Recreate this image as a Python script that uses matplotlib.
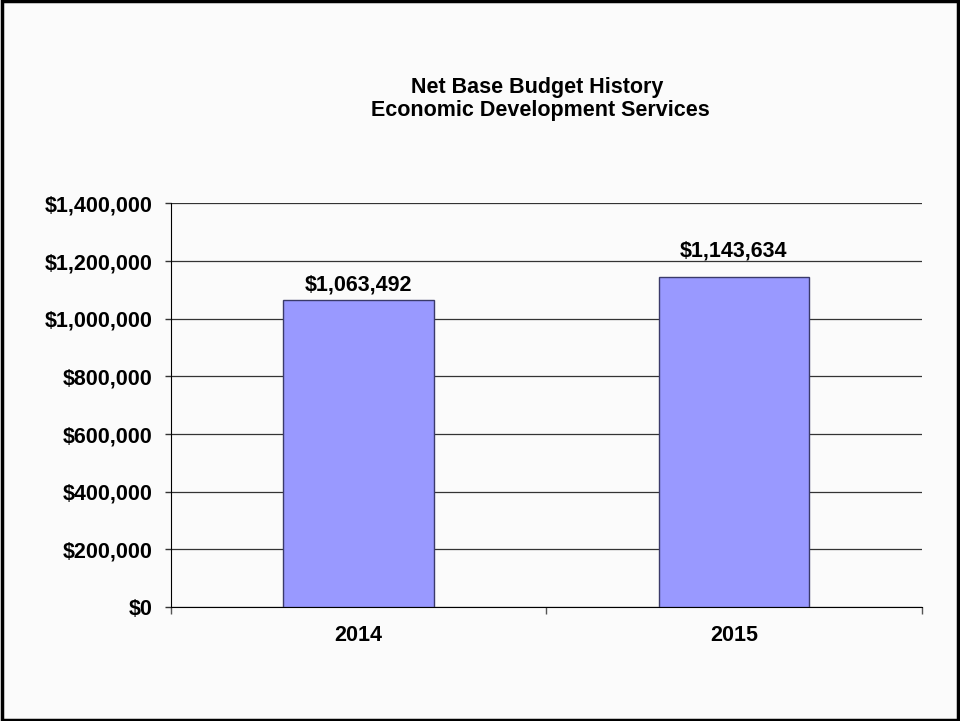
import matplotlib
matplotlib.use("Agg")
import matplotlib.pyplot as plt
from matplotlib.patches import Rectangle
from matplotlib.ticker import FuncFormatter, MultipleLocator

years = ["2014", "2015"]
budget = [1063492, 1143634]
title_lines = ["Net Base Budget History", "Economic Development Services"]

plt.rcParams["font.family"] = ["Liberation Sans", "DejaVu Sans"]
plt.rcParams["font.weight"] = "bold"

FS = 15.5
# vertical gap (points) between each bar top and its value label baseline
label_gap = [7.2, 15.1]

fig = plt.figure(figsize=(9.6, 7.21), dpi=100, facecolor="#fbfbfb")
ax = fig.add_axes([0.178, 0.158, 0.782, 0.560])
ax.set_facecolor("#fbfbfb")

x = list(range(len(years)))
bars = ax.bar(x, budget, width=0.40, color="#9999ff", edgecolor="#3a3a6a",
              linewidth=1.0, zorder=3)

ax.set_xlim(-0.5, len(years) - 0.5)
ax.set_ylim(0, 1400000)
ax.yaxis.set_major_locator(MultipleLocator(200000))
ax.yaxis.set_major_formatter(FuncFormatter(lambda v, p: f"${v:,.0f}"))
ax.grid(axis="y", color="#333333", linewidth=0.9, zorder=0)

ax.set_xticks([-0.5, 0.5, 1.5], minor=False)
ax.set_xticklabels([])
ax.set_xticks(x, minor=True)
ax.set_xticklabels(years, minor=True, fontsize=FS, fontweight="bold")
ax.tick_params(axis="x", which="major", direction="out", length=5, width=1,
               color="#555555")
ax.tick_params(axis="x", which="minor", length=0, pad=13)
ax.tick_params(axis="y", direction="out", length=4.5, width=1, color="#333333",
               labelsize=FS, pad=8.5)
for lbl in ax.get_yticklabels():
    lbl.set_fontweight("bold")

for side in ("top", "right"):
    ax.spines[side].set_visible(False)
ax.spines["left"].set_color("#000000")
ax.spines["bottom"].set_color("#000000")

for b, v, g in zip(bars, budget, label_gap):
    ax.annotate(f"${v:,.0f}", (b.get_x() + b.get_width() / 2, v),
                xytext=(0, g), textcoords="offset points",
                ha="center", va="baseline", fontsize=FS, fontweight="bold")

fig.text(0.560, 0.879, title_lines[0], ha="center", va="center",
         fontsize=FS, fontweight="bold")
fig.text(0.563, 0.847, title_lines[1], ha="center", va="center",
         fontsize=FS, fontweight="bold")

fig.patches.append(Rectangle((0.002, 0.002), 0.996, 0.996,
                             transform=fig.transFigure, fill=False,
                             edgecolor="#000000", linewidth=2.5))

fig.savefig("out.png", dpi=100, facecolor=fig.get_facecolor())
